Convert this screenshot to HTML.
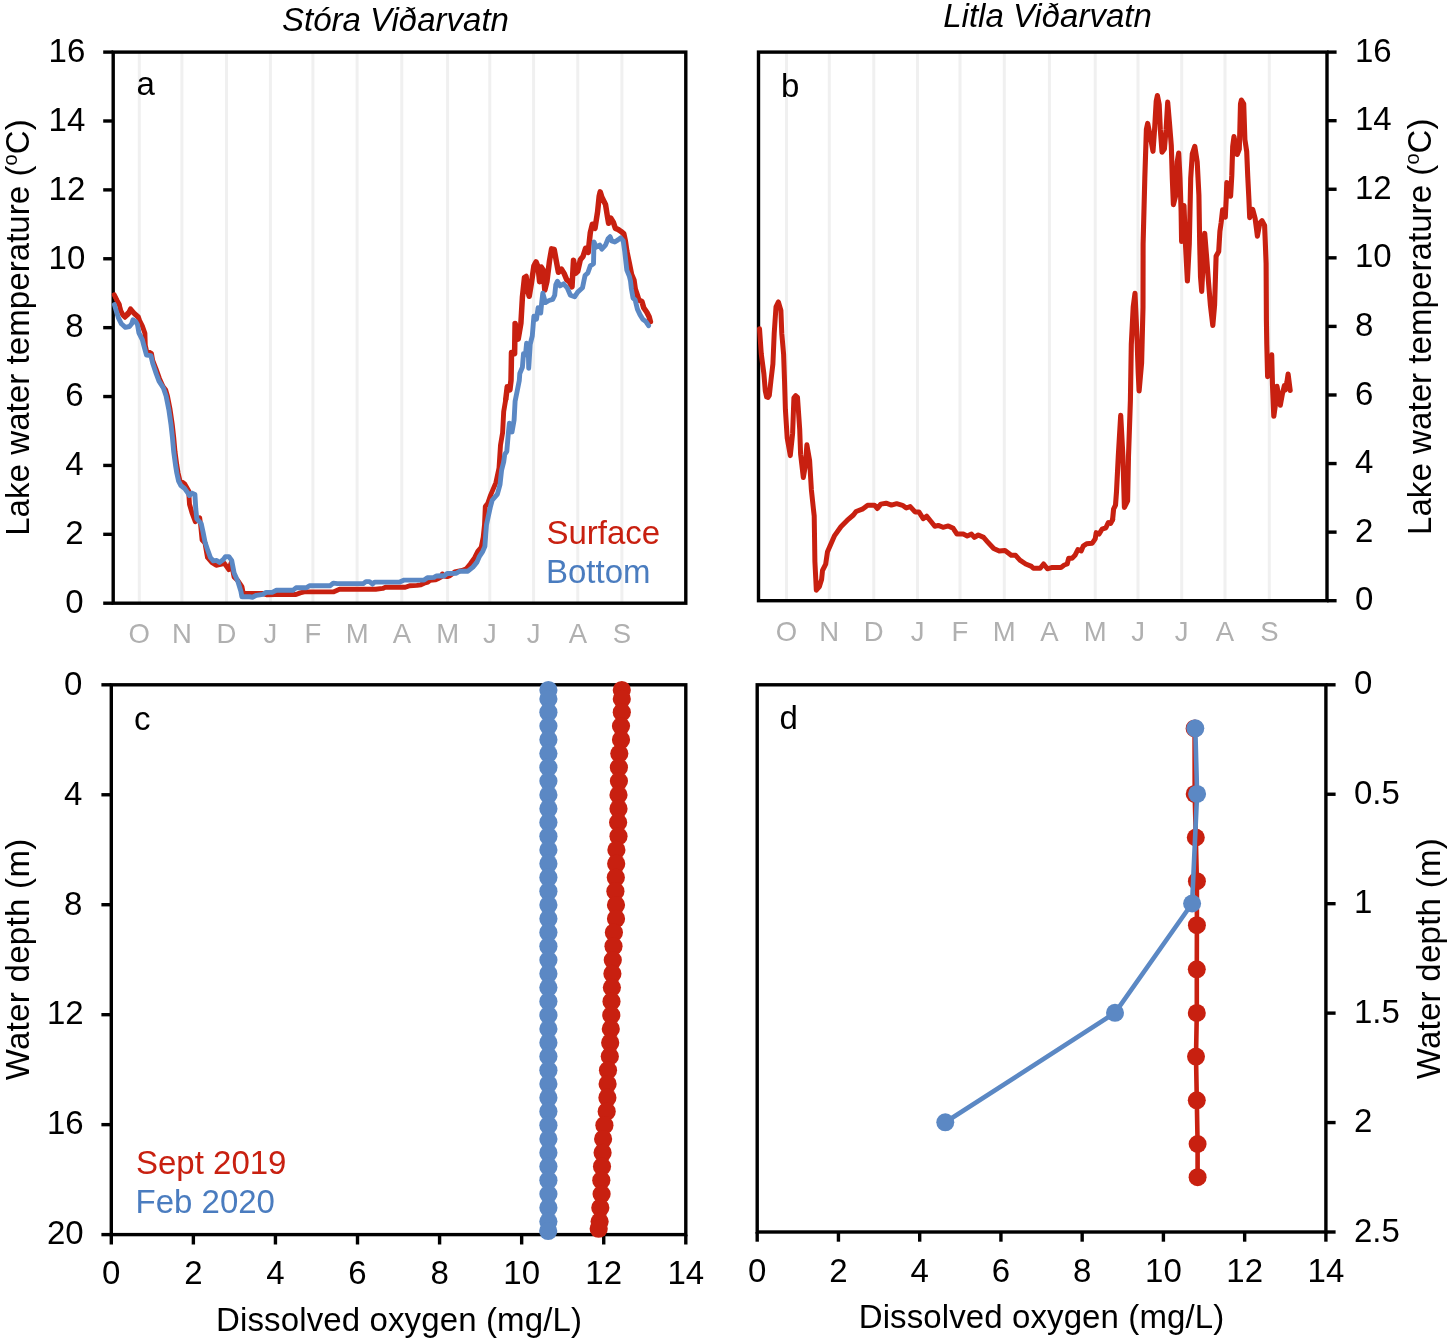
<!DOCTYPE html>
<html lang="en"><head><meta charset="utf-8"><title>Lake water temperature and dissolved oxygen</title>
<style>
html,body{margin:0;padding:0;background:#fff;}
body{width:1450px;height:1342px;overflow:hidden;}
svg{display:block;font-family:"Liberation Sans",sans-serif;will-change:transform;}
</style></head><body>
<svg width="1450" height="1342" viewBox="0 0 1450 1342">
<rect width="1450" height="1342" fill="#fff"/>
<line x1="139.30" y1="52.10" x2="139.30" y2="603.20" stroke="#f0f0f0" stroke-width="3"/>
<line x1="181.90" y1="52.10" x2="181.90" y2="603.20" stroke="#f0f0f0" stroke-width="3"/>
<line x1="226.50" y1="52.10" x2="226.50" y2="603.20" stroke="#f0f0f0" stroke-width="3"/>
<line x1="270.40" y1="52.10" x2="270.40" y2="603.20" stroke="#f0f0f0" stroke-width="3"/>
<line x1="312.90" y1="52.10" x2="312.90" y2="603.20" stroke="#f0f0f0" stroke-width="3"/>
<line x1="357.10" y1="52.10" x2="357.10" y2="603.20" stroke="#f0f0f0" stroke-width="3"/>
<line x1="401.80" y1="52.10" x2="401.80" y2="603.20" stroke="#f0f0f0" stroke-width="3"/>
<line x1="447.60" y1="52.10" x2="447.60" y2="603.20" stroke="#f0f0f0" stroke-width="3"/>
<line x1="489.80" y1="52.10" x2="489.80" y2="603.20" stroke="#f0f0f0" stroke-width="3"/>
<line x1="533.60" y1="52.10" x2="533.60" y2="603.20" stroke="#f0f0f0" stroke-width="3"/>
<line x1="577.80" y1="52.10" x2="577.80" y2="603.20" stroke="#f0f0f0" stroke-width="3"/>
<line x1="621.90" y1="52.10" x2="621.90" y2="603.20" stroke="#f0f0f0" stroke-width="3"/>
<line x1="786.50" y1="52.10" x2="786.50" y2="600.70" stroke="#f0f0f0" stroke-width="3"/>
<line x1="829.30" y1="52.10" x2="829.30" y2="600.70" stroke="#f0f0f0" stroke-width="3"/>
<line x1="873.80" y1="52.10" x2="873.80" y2="600.70" stroke="#f0f0f0" stroke-width="3"/>
<line x1="917.50" y1="52.10" x2="917.50" y2="600.70" stroke="#f0f0f0" stroke-width="3"/>
<line x1="960.00" y1="52.10" x2="960.00" y2="600.70" stroke="#f0f0f0" stroke-width="3"/>
<line x1="1004.30" y1="52.10" x2="1004.30" y2="600.70" stroke="#f0f0f0" stroke-width="3"/>
<line x1="1049.40" y1="52.10" x2="1049.40" y2="600.70" stroke="#f0f0f0" stroke-width="3"/>
<line x1="1095.20" y1="52.10" x2="1095.20" y2="600.70" stroke="#f0f0f0" stroke-width="3"/>
<line x1="1138.00" y1="52.10" x2="1138.00" y2="600.70" stroke="#f0f0f0" stroke-width="3"/>
<line x1="1181.70" y1="52.10" x2="1181.70" y2="600.70" stroke="#f0f0f0" stroke-width="3"/>
<line x1="1225.00" y1="52.10" x2="1225.00" y2="600.70" stroke="#f0f0f0" stroke-width="3"/>
<line x1="1269.30" y1="52.10" x2="1269.30" y2="600.70" stroke="#f0f0f0" stroke-width="3"/>
<rect x="113.2" y="52.1" width="572.60" height="551.10" fill="none" stroke="#000" stroke-width="3.4"/>
<rect x="758.5" y="52.1" width="568.50" height="548.60" fill="none" stroke="#000" stroke-width="3.4"/>
<rect x="111.3" y="684.8" width="574.50" height="549.80" fill="none" stroke="#000" stroke-width="3.4"/>
<rect x="757.2" y="684.8" width="568.70" height="547.20" fill="none" stroke="#000" stroke-width="3.4"/>
<path d="M114.3,294.8 L116.9,300.1 L119.2,304.2 L120.5,310.0 L122.6,314.4 L124.5,316.2 L127.0,314.0 L129.0,311.8 L130.5,308.8 L133.9,312.9 L138.4,316.9 L139.5,320.3 L142.4,326.1 L144.9,333.2 L145.3,345.3 L146.5,350.7 L151.4,353.3 L152.7,360.5 L155.9,368.6 L159.4,378.4 L163.0,386.4 L165.7,390.0 L167.5,396.1 L170.1,409.5 L172.3,424.7 L173.7,437.2 L175.0,451.6 L176.8,465.0 L178.1,473.0 L179.9,480.6 L182.8,482.5 L184.7,483.9 L188.6,490.7 L189.5,504.2 L192.0,512.9 L195.3,521.7 L199.7,517.8 L200.7,525.5 L202.1,540.1 L205.0,543.0 L207.5,557.5 L211.8,562.4 L216.2,565.3 L220.5,564.3 L224.4,563.3 L228.8,569.6 L231.2,562.4 L234.1,576.9 L238.0,580.8 L241.9,586.6 L243.3,593.4 L262.2,593.4 L267.1,594.8 L275.3,594.5 L296.0,594.5 L300.2,592.9 L304.3,591.9 L333.3,591.9 L339.5,589.3 L375.7,589.3 L382.7,588.4 L385.4,587.3 L405.3,587.3 L409.7,585.7 L416.9,585.4 L420.8,584.8 L424.1,583.2 L427.9,582.1 L430.1,580.4 L435.1,579.9 L439.0,578.2 L441.7,576.6 L442.3,574.0 L444.0,576.0 L447.2,576.6 L450.0,575.6 L454.7,572.0 L462.1,570.4 L466.3,568.7 L470.4,563.7 L474.5,557.9 L477.8,551.3 L481.2,547.2 L483.2,537.3 L484.5,524.8 L485.3,506.6 L487.8,503.3 L490.6,495.1 L495.9,482.6 L499.0,468.0 L500.5,445.1 L502.6,432.6 L503.7,411.7 L505.8,399.2" fill="none" stroke="#c82010" stroke-width="4.9" stroke-linejoin="round" stroke-linecap="round"/>
<path d="M505.8,399.2 L507.3,386.7 L509.9,389.8 L511.0,380.4 L511.3,365.0 L511.5,352.6 L514.6,353.7 L515.1,323.4 L518.2,339.1 L520.9,323.4 L522.4,297.4 L524.5,277.5 L526.1,276.5 L527.6,290.1 L529.2,296.3 L531.3,283.8 L533.9,266.1 L536.0,261.9 L538.1,267.1 L539.6,281.7 L541.2,267.1 L543.3,270.2 L544.8,290.1 L546.9,281.7 L549.5,260.9 L551.6,248.9 L554.2,249.4 L556.3,260.9 L558.4,272.3 L561.5,269.2 L564.1,273.4 L566.7,279.6 L569.3,281.7 L572.0,286.9 L573.5,260.3 L575.6,273.4 L577.7,271.3 L580.3,259.8 L583.0,256.5 L585.6,248.2 L588.2,252.4 L590.3,232.6 L592.4,224.2 L595.0,228.4 L597.6,211.7 L599.2,196.1 L600.2,191.9 L601.8,197.1 L603.4,200.2 L605.5,204.4 L607.5,216.9 L608.6,223.2 L610.7,218.0 L613.3,222.1 L615.4,228.4 L618.0,229.4 L621.1,231.5 L623.7,233.6 L625.3,240.9 L626.8,251.3 L629.4,263.8 L631.5,274.3 L633.9,280.0 L635.2,288.9 L637.2,294.8 L638.8,300.1 L641.9,301.5 L643.7,307.7 L646.8,312.2 L649.1,316.7 L650.4,321.6" fill="none" stroke="#c82010" stroke-width="5.5" stroke-linejoin="round" stroke-linecap="round"/>
<path d="M114.8,296.4 L117.4,301.7 L119.7,305.8 L121.0,311.6 L123.1,316.0 L125.0,317.8 L127.5,315.6 L129.5,313.4 L131.0,310.4 L134.4,314.5 L138.9,318.5 L140.0,321.9" fill="none" stroke="#c82010" stroke-width="4.0" stroke-linejoin="round" stroke-linecap="round"/>
<path d="M114.4,304.6 L116.1,310.4 L118.3,317.6 L121.4,323.8 L125.4,327.4 L129.5,326.5 L131.7,323.8 L133.0,319.8 L135.7,321.6 L137.5,324.7 L138.9,332.8 L142.4,339.9 L143.8,345.3 L146.5,355.1 L150.9,355.6 L152.7,363.2 L156.3,373.9 L159.0,381.1 L163.4,388.0 L166.1,396.1 L168.8,409.5 L171.0,424.7 L172.4,437.2 L173.7,451.6 L175.5,465.0 L176.8,473.0 L178.6,481.1 L180.9,485.5 L184.4,488.2 L187.6,492.7 L189.5,495.5 L192.0,493.1 L194.9,494.5 L195.8,509.1 L196.8,518.8 L201.2,523.6 L203.1,532.3 L205.0,542.0 L207.9,550.7 L210.4,557.5 L213.3,560.9 L216.7,560.4 L219.6,562.4 L223.4,559.5 L225.4,556.6 L228.8,556.6 L231.7,560.4 L234.1,573.0 L238.0,581.7 L240.9,591.4 L241.9,596.8 L249.6,596.8 L252.5,597.2 L256.4,595.3 L263.2,594.3 L266.1,592.4 L272.2,592.4 L276.4,590.3 L292.9,590.3 L296.0,587.8 L306.4,587.8 L309.5,585.7 L330.2,585.7 L333.3,583.1 L337.4,583.6 L363.3,583.6 L365.9,581.6 L369.5,581.6 L372.6,584.1 L374.7,582.1 L399.8,582.1 L404.2,580.1 L424.1,580.1 L427.4,577.7 L434.0,577.4 L436.2,576.0 L441.7,575.7 L443.9,576.0 L447.2,573.5 L456.3,573.3 L459.6,571.2 L467.9,571.2 L472.9,567.1 L477.0,562.1 L479.5,556.3 L482.8,551.3 L484.9,546.4 L485.7,534.8 L486.5,524.8 L488.6,514.9 L490.6,506.0 L492.2,500.3 L497.4,494.1 L500.0,484.7 L501.6,470.1 L503.7,461.8 L504.7,454.5 L506.8,451.3 L508.4,432.6 L509.4,423.2 L512.0,432.0 L514.1,420.1 L515.1,401.3 L517.2,390.9 L519.3,380.4 L519.8,373.5 L522.4,367.2 L523.5,353.7 L525.5,354.7 L526.6,343.2 L528.2,344.3 L528.7,368.3 L530.2,344.3 L532.3,335.9 L533.9,316.1 L536.5,319.2 L538.1,307.8 L540.7,313.0 L541.7,302.6 L542.8,293.2 L545.4,302.6 L549.0,300.5 L552.7,299.4 L554.7,295.3 L555.8,284.8 L557.4,281.2 L560.0,285.9 L563.6,283.8 L567.3,288.0 L570.4,295.3 L574.6,296.8 L577.7,292.1 L582.5,287.8 L585.1,275.3 L587.7,273.2 L590.3,265.9 L593.5,263.8 L594.0,242.0 L596.1,247.2 L599.7,245.1 L601.8,249.2 L605.5,245.1 L608.1,238.8 L610.1,236.7 L611.7,240.9 L614.8,242.0 L618.0,239.9 L620.6,237.8 L623.2,240.9 L624.7,251.3 L626.8,270.1 L629.4,276.4 L630.5,281.0 L631.4,288.9 L633.0,297.9 L635.2,300.1 L637.4,309.1 L640.1,314.9 L642.8,319.3 L645.9,321.6 L648.6,325.6" fill="none" stroke="#5b88c4" stroke-width="4.9" stroke-linejoin="round" stroke-linecap="round"/>
<path d="M759.5,328.7 L761.3,354.2 L763.9,373.9 L765.3,391.0 L766.6,397.0 L768.0,397.5 L769.3,395.4 L771.0,380.0 L772.9,364.0 L774.2,333.7 L776.0,306.8 L778.4,301.9 L780.9,310.4 L781.8,333.7 L783.6,354.2 L784.5,380.0 L785.4,409.5 L787.2,438.1 L790.3,455.6 L792.6,433.7 L793.9,397.9 L795.7,395.7 L797.5,397.4 L799.7,429.2 L800.6,454.2 L803.3,477.5 L805.3,466.0 L806.9,444.8 L809.6,460.5 L811.4,490.0 L813.1,506.1 L814.2,515.9 L814.5,534.7 L814.9,561.6 L815.8,579.4 L816.3,590.2 L819.4,586.6 L821.6,579.4 L822.5,570.5 L825.7,564.2 L827.5,551.7 L831.0,543.7 L834.6,535.6 L840.9,526.7 L847.1,520.4 L853.4,515.0 L856.1,511.5 L862.3,509.2 L867.7,505.3 L874.5,505.3 L877.4,508.5 L880.8,504.1 L886.1,503.2 L891.4,505.1 L896.7,503.7 L902.5,505.3 L906.3,508.0 L910.2,506.6 L915.0,511.9 L918.9,511.9 L923.2,518.6 L926.6,516.2 L931.0,521.5 L934.8,526.3 L938.2,525.4 L943.0,527.3 L948.3,525.9 L953.2,528.3 L957.0,534.1 L963.3,534.1 L967.2,536.0 L971.5,534.1 L974.4,537.4 L978.3,535.0 L983.6,537.4 L987.5,541.8 L993.7,548.5 L999.2,551.0 L1005.0,550.5 L1011.2,555.3 L1015.6,555.3 L1019.9,560.1 L1025.7,564.0 L1031.5,566.4 L1033.4,568.3 L1040.2,568.3 L1043.6,564.0 L1047.4,568.8 L1052.3,567.4 L1061.0,567.4 L1064.3,565.0 L1067.2,564.0 L1068.7,558.2 L1072.1,558.2 L1075.0,555.3 L1077.9,549.5 L1081.2,551.0 L1083.2,546.1 L1086.6,543.7 L1092.3,543.2 L1095.2,538.9 L1096.2,532.6 L1099.1,534.1 L1102.0,529.2 L1105.9,527.8 L1108.3,522.5 L1110.7,523.4 L1112.6,519.6" fill="none" stroke="#c82010" stroke-width="5.0" stroke-linejoin="round" stroke-linecap="round"/>
<path d="M1112.6,519.6 L1113.6,509.0 L1115.5,505.1 L1116.5,491.6 L1118.3,456.2 L1120.7,415.3 L1122.9,456.2 L1124.4,507.4 L1127.6,500.9 L1128.5,456.2 L1130.4,400.4 L1131.3,344.5 L1133.2,307.2 L1135.0,293.3 L1136.9,335.2 L1138.2,372.4 L1139.1,391.0 L1141.6,363.1 L1143.0,307.2 L1143.1,243.9 L1144.8,178.4 L1146.4,129.2 L1147.7,123.4 L1150.5,137.4 L1153.0,151.3 L1154.6,129.2 L1156.2,101.3 L1157.4,95.6 L1159.2,104.6 L1160.3,129.2 L1162.0,152.1 L1164.4,148.9 L1166.1,129.2 L1167.7,102.1 L1169.3,121.0 L1171.3,145.6 L1172.3,178.4 L1173.4,204.6 L1175.9,194.8 L1177.2,162.0 L1178.7,153.0 L1180.0,178.4 L1181.1,211.1 L1181.6,241.5 L1184.0,205.5 L1185.5,245.0 L1187.4,281.0 L1189.3,243.9 L1190.7,178.4 L1192.3,153.8 L1194.8,146.4 L1197.2,162.0 L1198.9,194.8 L1199.7,243.9 L1200.5,276.7 L1201.7,291.4 L1203.3,260.3 L1204.7,233.2 L1206.7,258.0 L1208.5,282.0 L1210.4,305.1 L1212.8,325.4 L1214.6,305.1 L1215.5,275.4 L1216.1,256.3 L1218.7,251.5 L1219.9,231.3 L1221.1,223.0 L1222.6,209.9 L1225.3,217.1 L1226.2,199.2 L1226.8,182.5 L1230.6,196.2 L1231.8,175.4 L1232.7,146.7 L1234.0,136.6 L1235.8,146.7 L1237.2,154.5 L1239.3,149.1 L1239.9,127.7 L1240.5,103.8 L1241.4,100.0 L1243.7,103.8 L1244.9,139.6 L1246.7,151.5 L1247.7,175.4 L1248.9,199.2 L1249.7,217.7 L1252.7,209.3 L1255.1,218.3 L1256.5,229.0 L1257.4,236.1 L1259.8,223.0 L1262.0,220.6 L1264.6,225.4 L1265.2,240.0 L1266.1,263.4 L1266.4,320.0 L1266.8,344.6 L1267.6,376.6 L1271.7,354.8 L1272.5,385.6 L1273.8,416.3 L1275.8,402.0 L1277.0,386.4 L1280.3,405.2 L1282.4,393.8 L1284.4,385.6 L1285.3,390.0 L1286.9,382.3 L1288.1,374.1 L1290.2,390.5" fill="none" stroke="#c82010" stroke-width="5.1" stroke-linejoin="round" stroke-linecap="round"/>
<line x1="103.20" y1="603.20" x2="113.20" y2="603.20" stroke="#000" stroke-width="3.4"/>
<text x="83.60" y="613.00" text-anchor="end" fill="#000" font-size="33">0</text>
<line x1="103.20" y1="534.31" x2="113.20" y2="534.31" stroke="#000" stroke-width="3.4"/>
<text x="83.60" y="544.11" text-anchor="end" fill="#000" font-size="33">2</text>
<line x1="103.20" y1="465.43" x2="113.20" y2="465.43" stroke="#000" stroke-width="3.4"/>
<text x="83.60" y="475.23" text-anchor="end" fill="#000" font-size="33">4</text>
<line x1="103.20" y1="396.54" x2="113.20" y2="396.54" stroke="#000" stroke-width="3.4"/>
<text x="83.60" y="406.34" text-anchor="end" fill="#000" font-size="33">6</text>
<line x1="103.20" y1="327.65" x2="113.20" y2="327.65" stroke="#000" stroke-width="3.4"/>
<text x="83.60" y="337.45" text-anchor="end" fill="#000" font-size="33">8</text>
<line x1="103.20" y1="258.76" x2="113.20" y2="258.76" stroke="#000" stroke-width="3.4"/>
<text x="85.30" y="268.56" text-anchor="end" fill="#000" font-size="33">10</text>
<line x1="103.20" y1="189.88" x2="113.20" y2="189.88" stroke="#000" stroke-width="3.4"/>
<text x="85.30" y="199.68" text-anchor="end" fill="#000" font-size="33">12</text>
<line x1="103.20" y1="120.99" x2="113.20" y2="120.99" stroke="#000" stroke-width="3.4"/>
<text x="85.30" y="130.79" text-anchor="end" fill="#000" font-size="33">14</text>
<line x1="103.20" y1="52.10" x2="113.20" y2="52.10" stroke="#000" stroke-width="3.4"/>
<text x="85.30" y="61.90" text-anchor="end" fill="#000" font-size="33">16</text>
<line x1="1327.00" y1="600.70" x2="1336.60" y2="600.70" stroke="#000" stroke-width="3.4"/>
<text x="1355.00" y="610.30" text-anchor="start" fill="#000" font-size="33">0</text>
<line x1="1327.00" y1="532.12" x2="1336.60" y2="532.12" stroke="#000" stroke-width="3.4"/>
<text x="1355.00" y="541.73" text-anchor="start" fill="#000" font-size="33">2</text>
<line x1="1327.00" y1="463.55" x2="1336.60" y2="463.55" stroke="#000" stroke-width="3.4"/>
<text x="1355.00" y="473.15" text-anchor="start" fill="#000" font-size="33">4</text>
<line x1="1327.00" y1="394.98" x2="1336.60" y2="394.98" stroke="#000" stroke-width="3.4"/>
<text x="1355.00" y="404.58" text-anchor="start" fill="#000" font-size="33">6</text>
<line x1="1327.00" y1="326.40" x2="1336.60" y2="326.40" stroke="#000" stroke-width="3.4"/>
<text x="1355.00" y="336.00" text-anchor="start" fill="#000" font-size="33">8</text>
<line x1="1327.00" y1="257.83" x2="1336.60" y2="257.83" stroke="#000" stroke-width="3.4"/>
<text x="1355.00" y="267.43" text-anchor="start" fill="#000" font-size="33">10</text>
<line x1="1327.00" y1="189.25" x2="1336.60" y2="189.25" stroke="#000" stroke-width="3.4"/>
<text x="1355.00" y="198.85" text-anchor="start" fill="#000" font-size="33">12</text>
<line x1="1327.00" y1="120.68" x2="1336.60" y2="120.68" stroke="#000" stroke-width="3.4"/>
<text x="1355.00" y="130.28" text-anchor="start" fill="#000" font-size="33">14</text>
<line x1="1327.00" y1="52.10" x2="1336.60" y2="52.10" stroke="#000" stroke-width="3.4"/>
<text x="1355.00" y="61.70" text-anchor="start" fill="#000" font-size="33">16</text>
<text x="139.30" y="643.00" text-anchor="middle" fill="#b0b0b0" font-size="27.5">O</text>
<text x="786.50" y="640.80" text-anchor="middle" fill="#b0b0b0" font-size="27.5">O</text>
<text x="181.90" y="643.00" text-anchor="middle" fill="#b0b0b0" font-size="27.5">N</text>
<text x="829.30" y="640.80" text-anchor="middle" fill="#b0b0b0" font-size="27.5">N</text>
<text x="226.50" y="643.00" text-anchor="middle" fill="#b0b0b0" font-size="27.5">D</text>
<text x="873.80" y="640.80" text-anchor="middle" fill="#b0b0b0" font-size="27.5">D</text>
<text x="270.40" y="643.00" text-anchor="middle" fill="#b0b0b0" font-size="27.5">J</text>
<text x="917.50" y="640.80" text-anchor="middle" fill="#b0b0b0" font-size="27.5">J</text>
<text x="312.90" y="643.00" text-anchor="middle" fill="#b0b0b0" font-size="27.5">F</text>
<text x="960.00" y="640.80" text-anchor="middle" fill="#b0b0b0" font-size="27.5">F</text>
<text x="357.10" y="643.00" text-anchor="middle" fill="#b0b0b0" font-size="27.5">M</text>
<text x="1004.30" y="640.80" text-anchor="middle" fill="#b0b0b0" font-size="27.5">M</text>
<text x="401.80" y="643.00" text-anchor="middle" fill="#b0b0b0" font-size="27.5">A</text>
<text x="1049.40" y="640.80" text-anchor="middle" fill="#b0b0b0" font-size="27.5">A</text>
<text x="447.60" y="643.00" text-anchor="middle" fill="#b0b0b0" font-size="27.5">M</text>
<text x="1095.20" y="640.80" text-anchor="middle" fill="#b0b0b0" font-size="27.5">M</text>
<text x="489.80" y="643.00" text-anchor="middle" fill="#b0b0b0" font-size="27.5">J</text>
<text x="1138.00" y="640.80" text-anchor="middle" fill="#b0b0b0" font-size="27.5">J</text>
<text x="533.60" y="643.00" text-anchor="middle" fill="#b0b0b0" font-size="27.5">J</text>
<text x="1181.70" y="640.80" text-anchor="middle" fill="#b0b0b0" font-size="27.5">J</text>
<text x="577.80" y="643.00" text-anchor="middle" fill="#b0b0b0" font-size="27.5">A</text>
<text x="1225.00" y="640.80" text-anchor="middle" fill="#b0b0b0" font-size="27.5">A</text>
<text x="621.90" y="643.00" text-anchor="middle" fill="#b0b0b0" font-size="27.5">S</text>
<text x="1269.30" y="640.80" text-anchor="middle" fill="#b0b0b0" font-size="27.5">S</text>
<line x1="101.40" y1="684.80" x2="111.30" y2="684.80" stroke="#000" stroke-width="3.4"/>
<text x="82.30" y="694.60" text-anchor="end" fill="#000" font-size="33">0</text>
<line x1="101.40" y1="794.76" x2="111.30" y2="794.76" stroke="#000" stroke-width="3.4"/>
<text x="82.30" y="804.56" text-anchor="end" fill="#000" font-size="33">4</text>
<line x1="101.40" y1="904.72" x2="111.30" y2="904.72" stroke="#000" stroke-width="3.4"/>
<text x="82.30" y="914.52" text-anchor="end" fill="#000" font-size="33">8</text>
<line x1="101.40" y1="1014.68" x2="111.30" y2="1014.68" stroke="#000" stroke-width="3.4"/>
<text x="83.60" y="1024.48" text-anchor="end" fill="#000" font-size="33">12</text>
<line x1="101.40" y1="1124.64" x2="111.30" y2="1124.64" stroke="#000" stroke-width="3.4"/>
<text x="83.60" y="1134.44" text-anchor="end" fill="#000" font-size="33">16</text>
<line x1="101.40" y1="1234.60" x2="111.30" y2="1234.60" stroke="#000" stroke-width="3.4"/>
<text x="83.60" y="1244.40" text-anchor="end" fill="#000" font-size="33">20</text>
<line x1="111.30" y1="1234.60" x2="111.30" y2="1244.50" stroke="#000" stroke-width="3.4"/>
<text x="111.30" y="1284.40" text-anchor="middle" fill="#000" font-size="33">0</text>
<line x1="193.37" y1="1234.60" x2="193.37" y2="1244.50" stroke="#000" stroke-width="3.4"/>
<text x="193.37" y="1284.40" text-anchor="middle" fill="#000" font-size="33">2</text>
<line x1="275.44" y1="1234.60" x2="275.44" y2="1244.50" stroke="#000" stroke-width="3.4"/>
<text x="275.44" y="1284.40" text-anchor="middle" fill="#000" font-size="33">4</text>
<line x1="357.51" y1="1234.60" x2="357.51" y2="1244.50" stroke="#000" stroke-width="3.4"/>
<text x="357.51" y="1284.40" text-anchor="middle" fill="#000" font-size="33">6</text>
<line x1="439.59" y1="1234.60" x2="439.59" y2="1244.50" stroke="#000" stroke-width="3.4"/>
<text x="439.59" y="1284.40" text-anchor="middle" fill="#000" font-size="33">8</text>
<line x1="521.66" y1="1234.60" x2="521.66" y2="1244.50" stroke="#000" stroke-width="3.4"/>
<text x="521.66" y="1284.40" text-anchor="middle" fill="#000" font-size="33">10</text>
<line x1="603.73" y1="1234.60" x2="603.73" y2="1244.50" stroke="#000" stroke-width="3.4"/>
<text x="603.73" y="1284.40" text-anchor="middle" fill="#000" font-size="33">12</text>
<line x1="685.80" y1="1234.60" x2="685.80" y2="1244.50" stroke="#000" stroke-width="3.4"/>
<text x="685.80" y="1284.40" text-anchor="middle" fill="#000" font-size="33">14</text>
<line x1="1325.90" y1="684.80" x2="1335.60" y2="684.80" stroke="#000" stroke-width="3.4"/>
<text x="1354.00" y="694.40" text-anchor="start" fill="#000" font-size="33">0</text>
<line x1="1325.90" y1="794.24" x2="1335.60" y2="794.24" stroke="#000" stroke-width="3.4"/>
<text x="1354.00" y="803.84" text-anchor="start" fill="#000" font-size="33">0.5</text>
<line x1="1325.90" y1="903.68" x2="1335.60" y2="903.68" stroke="#000" stroke-width="3.4"/>
<text x="1354.00" y="913.28" text-anchor="start" fill="#000" font-size="33">1</text>
<line x1="1325.90" y1="1013.12" x2="1335.60" y2="1013.12" stroke="#000" stroke-width="3.4"/>
<text x="1354.00" y="1022.72" text-anchor="start" fill="#000" font-size="33">1.5</text>
<line x1="1325.90" y1="1122.56" x2="1335.60" y2="1122.56" stroke="#000" stroke-width="3.4"/>
<text x="1354.00" y="1132.16" text-anchor="start" fill="#000" font-size="33">2</text>
<line x1="1325.90" y1="1232.00" x2="1335.60" y2="1232.00" stroke="#000" stroke-width="3.4"/>
<text x="1354.00" y="1241.60" text-anchor="start" fill="#000" font-size="33">2.5</text>
<line x1="757.20" y1="1232.00" x2="757.20" y2="1241.70" stroke="#000" stroke-width="3.4"/>
<text x="757.20" y="1281.60" text-anchor="middle" fill="#000" font-size="33">0</text>
<line x1="838.44" y1="1232.00" x2="838.44" y2="1241.70" stroke="#000" stroke-width="3.4"/>
<text x="838.44" y="1281.60" text-anchor="middle" fill="#000" font-size="33">2</text>
<line x1="919.69" y1="1232.00" x2="919.69" y2="1241.70" stroke="#000" stroke-width="3.4"/>
<text x="919.69" y="1281.60" text-anchor="middle" fill="#000" font-size="33">4</text>
<line x1="1000.93" y1="1232.00" x2="1000.93" y2="1241.70" stroke="#000" stroke-width="3.4"/>
<text x="1000.93" y="1281.60" text-anchor="middle" fill="#000" font-size="33">6</text>
<line x1="1082.17" y1="1232.00" x2="1082.17" y2="1241.70" stroke="#000" stroke-width="3.4"/>
<text x="1082.17" y="1281.60" text-anchor="middle" fill="#000" font-size="33">8</text>
<line x1="1163.41" y1="1232.00" x2="1163.41" y2="1241.70" stroke="#000" stroke-width="3.4"/>
<text x="1163.41" y="1281.60" text-anchor="middle" fill="#000" font-size="33">10</text>
<line x1="1244.66" y1="1232.00" x2="1244.66" y2="1241.70" stroke="#000" stroke-width="3.4"/>
<text x="1244.66" y="1281.60" text-anchor="middle" fill="#000" font-size="33">12</text>
<line x1="1325.90" y1="1232.00" x2="1325.90" y2="1241.70" stroke="#000" stroke-width="3.4"/>
<text x="1325.90" y="1281.60" text-anchor="middle" fill="#000" font-size="33">14</text>
<text x="395.50" y="30.60" text-anchor="middle" fill="#000" font-size="33" font-style="italic">Stóra Viðarvatn</text>
<text x="1047.50" y="27.30" text-anchor="middle" fill="#000" font-size="33" font-style="italic">Litla Viðarvatn</text>
<text x="136.50" y="94.60" text-anchor="start" fill="#000" font-size="33">a</text>
<text x="781.00" y="97.00" text-anchor="start" fill="#000" font-size="33">b</text>
<text x="134.00" y="730.00" text-anchor="start" fill="#000" font-size="33">c</text>
<text x="779.50" y="729.20" text-anchor="start" fill="#000" font-size="33">d</text>
<text x="546.50" y="543.70" text-anchor="start" fill="#c82010" font-size="33">Surface</text>
<text x="546.00" y="582.90" text-anchor="start" fill="#4a7cbf" font-size="33">Bottom</text>
<text x="136.00" y="1174.00" text-anchor="start" fill="#c82010" font-size="33">Sept 2019</text>
<text x="135.50" y="1213.20" text-anchor="start" fill="#4a7cbf" font-size="33">Feb 2020</text>
<text transform="translate(29.20,535.80) rotate(-90)" text-anchor="start" font-size="33" textLength="416.5" lengthAdjust="spacing">Lake water temperature (<tspan font-size="20" dy="-12.5">o</tspan><tspan dy="12.5">C)</tspan></text>
<text transform="translate(1431.20,535.00) rotate(-90)" text-anchor="start" font-size="33" textLength="416.5" lengthAdjust="spacing">Lake water temperature (<tspan font-size="20" dy="-12.5">o</tspan><tspan dy="12.5">C)</tspan></text>
<text transform="translate(28.50,1080.30) rotate(-90)" text-anchor="start" font-size="33" textLength="241.5" lengthAdjust="spacing">Water depth (m)</text>
<text transform="translate(1439.80,1079.30) rotate(-90)" text-anchor="start" font-size="33" textLength="241.0" lengthAdjust="spacing">Water depth (m)</text>
<text x="216.0" y="1331.4" font-size="33" textLength="366" lengthAdjust="spacing">Dissolved oxygen (mg/L)</text>
<text x="858.7" y="1327.8" font-size="33" textLength="365.5" lengthAdjust="spacing">Dissolved oxygen (mg/L)</text>
<circle cx="548.4" cy="690.0" r="9.1" fill="#5b88c4"/>
<circle cx="548.4" cy="698.9" r="9.1" fill="#5b88c4"/>
<circle cx="548.4" cy="712.3" r="9.1" fill="#5b88c4"/>
<circle cx="548.4" cy="726.1" r="9.1" fill="#5b88c4"/>
<circle cx="548.4" cy="739.8" r="9.1" fill="#5b88c4"/>
<circle cx="548.4" cy="753.6" r="9.1" fill="#5b88c4"/>
<circle cx="548.4" cy="767.4" r="9.1" fill="#5b88c4"/>
<circle cx="548.4" cy="781.1" r="9.1" fill="#5b88c4"/>
<circle cx="548.4" cy="794.9" r="9.1" fill="#5b88c4"/>
<circle cx="548.4" cy="808.7" r="9.1" fill="#5b88c4"/>
<circle cx="548.4" cy="822.4" r="9.1" fill="#5b88c4"/>
<circle cx="548.4" cy="836.2" r="9.1" fill="#5b88c4"/>
<circle cx="548.4" cy="849.9" r="9.1" fill="#5b88c4"/>
<circle cx="548.4" cy="863.7" r="9.1" fill="#5b88c4"/>
<circle cx="548.4" cy="877.5" r="9.1" fill="#5b88c4"/>
<circle cx="548.4" cy="891.2" r="9.1" fill="#5b88c4"/>
<circle cx="548.4" cy="905.0" r="9.1" fill="#5b88c4"/>
<circle cx="548.4" cy="918.8" r="9.1" fill="#5b88c4"/>
<circle cx="548.4" cy="932.5" r="9.1" fill="#5b88c4"/>
<circle cx="548.4" cy="946.3" r="9.1" fill="#5b88c4"/>
<circle cx="548.4" cy="960.1" r="9.1" fill="#5b88c4"/>
<circle cx="548.4" cy="973.8" r="9.1" fill="#5b88c4"/>
<circle cx="548.4" cy="987.6" r="9.1" fill="#5b88c4"/>
<circle cx="548.4" cy="1001.4" r="9.1" fill="#5b88c4"/>
<circle cx="548.4" cy="1015.1" r="9.1" fill="#5b88c4"/>
<circle cx="548.4" cy="1028.9" r="9.1" fill="#5b88c4"/>
<circle cx="548.4" cy="1042.7" r="9.1" fill="#5b88c4"/>
<circle cx="548.4" cy="1056.4" r="9.1" fill="#5b88c4"/>
<circle cx="548.4" cy="1070.2" r="9.1" fill="#5b88c4"/>
<circle cx="548.4" cy="1084.0" r="9.1" fill="#5b88c4"/>
<circle cx="548.4" cy="1097.7" r="9.1" fill="#5b88c4"/>
<circle cx="548.4" cy="1111.5" r="9.1" fill="#5b88c4"/>
<circle cx="548.4" cy="1125.2" r="9.1" fill="#5b88c4"/>
<circle cx="548.4" cy="1139.0" r="9.1" fill="#5b88c4"/>
<circle cx="548.4" cy="1152.8" r="9.1" fill="#5b88c4"/>
<circle cx="548.4" cy="1166.5" r="9.1" fill="#5b88c4"/>
<circle cx="548.4" cy="1180.3" r="9.1" fill="#5b88c4"/>
<circle cx="548.4" cy="1194.1" r="9.1" fill="#5b88c4"/>
<circle cx="548.4" cy="1207.8" r="9.1" fill="#5b88c4"/>
<circle cx="548.4" cy="1221.6" r="9.1" fill="#5b88c4"/>
<circle cx="548.2" cy="1231.0" r="9.1" fill="#5b88c4"/>
<circle cx="621.8" cy="690.0" r="9.1" fill="#c82010"/>
<circle cx="621.8" cy="698.9" r="9.1" fill="#c82010"/>
<circle cx="621.8" cy="712.3" r="9.1" fill="#c82010"/>
<circle cx="621.0" cy="726.1" r="9.1" fill="#c82010"/>
<circle cx="621.0" cy="739.8" r="9.1" fill="#c82010"/>
<circle cx="619.3" cy="753.6" r="9.1" fill="#c82010"/>
<circle cx="618.9" cy="767.4" r="9.1" fill="#c82010"/>
<circle cx="618.9" cy="781.1" r="9.1" fill="#c82010"/>
<circle cx="618.5" cy="794.9" r="9.1" fill="#c82010"/>
<circle cx="618.5" cy="808.7" r="9.1" fill="#c82010"/>
<circle cx="618.1" cy="822.4" r="9.1" fill="#c82010"/>
<circle cx="618.5" cy="836.2" r="9.1" fill="#c82010"/>
<circle cx="616.4" cy="849.9" r="9.1" fill="#c82010"/>
<circle cx="616.2" cy="863.7" r="9.1" fill="#c82010"/>
<circle cx="615.8" cy="877.5" r="9.1" fill="#c82010"/>
<circle cx="615.4" cy="891.2" r="9.1" fill="#c82010"/>
<circle cx="616.0" cy="905.0" r="9.1" fill="#c82010"/>
<circle cx="616.0" cy="918.8" r="9.1" fill="#c82010"/>
<circle cx="613.9" cy="932.5" r="9.1" fill="#c82010"/>
<circle cx="613.5" cy="946.3" r="9.1" fill="#c82010"/>
<circle cx="612.8" cy="960.1" r="9.1" fill="#c82010"/>
<circle cx="612.4" cy="973.8" r="9.1" fill="#c82010"/>
<circle cx="611.9" cy="987.6" r="9.1" fill="#c82010"/>
<circle cx="611.5" cy="1001.4" r="9.1" fill="#c82010"/>
<circle cx="611.3" cy="1015.1" r="9.1" fill="#c82010"/>
<circle cx="610.8" cy="1028.9" r="9.1" fill="#c82010"/>
<circle cx="610.2" cy="1042.7" r="9.1" fill="#c82010"/>
<circle cx="609.8" cy="1056.4" r="9.1" fill="#c82010"/>
<circle cx="608.0" cy="1070.2" r="9.1" fill="#c82010"/>
<circle cx="607.6" cy="1084.0" r="9.1" fill="#c82010"/>
<circle cx="607.4" cy="1097.7" r="9.1" fill="#c82010"/>
<circle cx="606.7" cy="1111.5" r="9.1" fill="#c82010"/>
<circle cx="604.4" cy="1125.2" r="9.1" fill="#c82010"/>
<circle cx="603.1" cy="1139.0" r="9.1" fill="#c82010"/>
<circle cx="602.6" cy="1152.8" r="9.1" fill="#c82010"/>
<circle cx="602.0" cy="1166.5" r="9.1" fill="#c82010"/>
<circle cx="601.3" cy="1180.3" r="9.1" fill="#c82010"/>
<circle cx="601.6" cy="1194.1" r="9.1" fill="#c82010"/>
<circle cx="600.3" cy="1207.8" r="9.1" fill="#c82010"/>
<circle cx="599.6" cy="1221.6" r="9.1" fill="#c82010"/>
<circle cx="598.7" cy="1228.7" r="9.1" fill="#c82010"/>
<path d="M1194.6,728.4 L1194.7,793.9 L1195.8,837.5 L1196.9,881.2 L1196.9,925.2 L1196.8,969.3 L1196.8,1012.9 L1196.0,1056.6 L1196.8,1100.3 L1197.6,1144.0 L1197.6,1177.2" fill="none" stroke="#c82010" stroke-width="4.6" stroke-linejoin="round" stroke-linecap="round"/>
<circle cx="1194.6" cy="728.4" r="9.0" fill="#c82010"/>
<circle cx="1194.7" cy="793.9" r="9.0" fill="#c82010"/>
<circle cx="1195.8" cy="837.5" r="9.0" fill="#c82010"/>
<circle cx="1196.9" cy="881.2" r="9.0" fill="#c82010"/>
<circle cx="1196.9" cy="925.2" r="9.0" fill="#c82010"/>
<circle cx="1196.8" cy="969.3" r="9.0" fill="#c82010"/>
<circle cx="1196.8" cy="1012.9" r="9.0" fill="#c82010"/>
<circle cx="1196.0" cy="1056.6" r="9.0" fill="#c82010"/>
<circle cx="1196.8" cy="1100.3" r="9.0" fill="#c82010"/>
<circle cx="1197.6" cy="1144.0" r="9.0" fill="#c82010"/>
<circle cx="1197.6" cy="1177.2" r="9.0" fill="#c82010"/>
<path d="M1195.3,728.3 L1197.1,793.9 L1192.1,903.5 L1115.0,1012.8 L945.3,1122.3" fill="none" stroke="#5b88c4" stroke-width="4.6" stroke-linejoin="round" stroke-linecap="round"/>
<circle cx="1195.3" cy="728.3" r="9.0" fill="#5b88c4"/>
<circle cx="1197.1" cy="793.9" r="9.0" fill="#5b88c4"/>
<circle cx="1192.1" cy="903.5" r="9.0" fill="#5b88c4"/>
<circle cx="1115.0" cy="1012.8" r="9.0" fill="#5b88c4"/>
<circle cx="945.3" cy="1122.3" r="9.0" fill="#5b88c4"/>
</svg>
</body></html>
